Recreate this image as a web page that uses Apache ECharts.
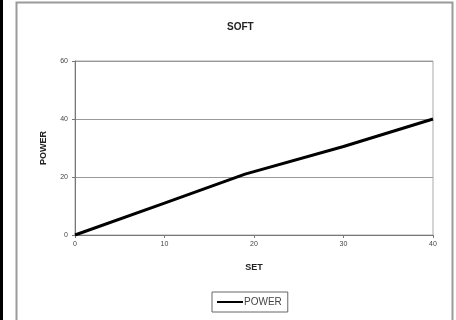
<!DOCTYPE html>
<html><head><meta charset="utf-8">
<script src="https://cdn.jsdelivr.net/npm/echarts@6/dist/echarts.min.js"></script>
<style>html,body{margin:0;padding:0;background:#fff}#c{width:456px;height:320px}</style>
</head><body><div id="c"></div>
<script>
const setValues = [0, 10, 19, 30, 40];
const powerValues = [0, 11, 21, 30.5, 40];
const seriesName = 'POWER';
const chartTitle = 'SOFT';
const xName = 'SET';
const yName = 'POWER';

const chart = echarts.init(document.getElementById('c'));
const font = 'Liberation Sans, Arial, sans-serif';
chart.setOption({
  animation: false,
  backgroundColor: '#fff',
  graphic: [
    {type: 'rect', shape: {x: 0, y: 0, width: 3, height: 320}, style: {fill: '#000'}},
    {type: 'rect', shape: {x: 16.5, y: 2.5, width: 436, height: 340}, style: {fill: 'none', stroke: '#9a9a9a', lineWidth: 2}}
  ],
  title: {text: chartTitle, left: 222, top: 17,
    textStyle: {fontFamily: font, fontSize: 10, fontWeight: 'bold', color: '#222'}},
  legend: {bottom: 8, left: 212, itemWidth: 26, itemHeight: 10, itemGap: 4,
    borderColor: '#666', borderWidth: 1, padding: [5, 6, 5, 5],
    textStyle: {fontFamily: font, fontSize: 10, color: '#444', padding: [0, 0, 0, -4]},
    icon: 'path://M0,4 L26,4 L26,6 L0,6 Z',
    data: [seriesName]},
  grid: {left: 75, right: 23, top: 61, bottom: 85, show: true, borderColor: '#aaa', borderWidth: 1},
  xAxis: {type: 'value', min: 0, max: 40, interval: 10,
    name: xName, nameLocation: 'middle', nameGap: 28,
    nameTextStyle: {fontFamily: font, fontSize: 9, fontWeight: 'bold', color: '#222'},
    axisLine: {lineStyle: {color: '#777', width: 1}},
    axisTick: {show: true, length: 3, lineStyle: {color: '#777'}},
    axisLabel: {fontFamily: font, fontSize: 7, color: '#444', margin: 6},
    splitLine: {show: false}},
  yAxis: {type: 'value', min: 0, max: 60, interval: 20,
    name: yName, nameLocation: 'middle', nameGap: 27, nameRotate: 90,
    nameTextStyle: {fontFamily: font, fontSize: 9, fontWeight: 'bold', color: '#222'},
    axisLine: {show: true, lineStyle: {color: '#777', width: 1}},
    axisTick: {show: true, length: 3, lineStyle: {color: '#777'}},
    axisLabel: {fontFamily: font, fontSize: 7, color: '#444', margin: 7},
    splitLine: {show: true, lineStyle: {color: '#999', width: 1}}},
  series: [{name: seriesName, type: 'line', showSymbol: false, symbol: 'none',
    data: setValues.map((x, i) => [x, powerValues[i]]),
    lineStyle: {color: '#000', width: 3}, itemStyle: {color: '#000'}}]
});
</script></body></html>
